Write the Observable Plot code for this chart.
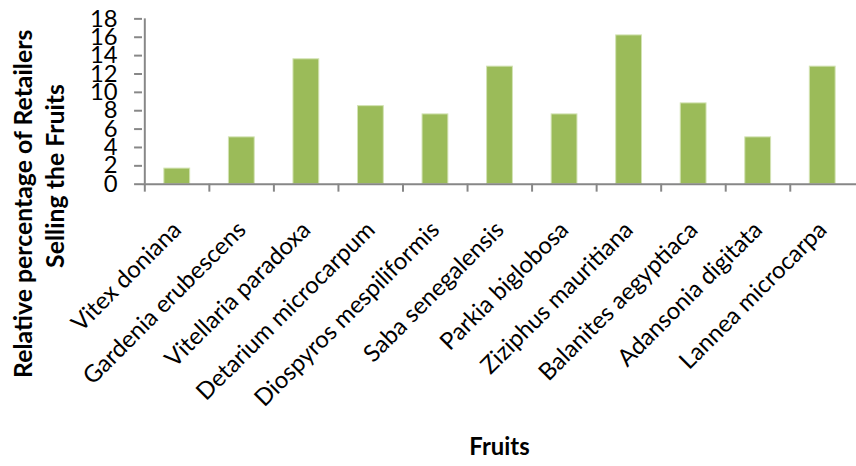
<!DOCTYPE html>
<html>
<head>
<meta charset="utf-8">
<script src="https://cdn.jsdelivr.net/npm/d3@7"></script>
<script src="https://cdn.jsdelivr.net/npm/@observablehq/plot@0.6"></script>
<style>
  html, body { margin: 0; padding: 0; background: #fff; overflow: hidden; }
  #chart svg { display: block; }
</style>
</head>
<body>
<div id="chart"></div>
<script>
const fruits = [
  "Vitex doniana", "Gardenia erubescens", "Vitellaria paradoxa", "Detarium microcarpum",
  "Diospyros mespiliformis", "Saba senegalensis", "Parkia biglobosa", "Ziziphus mauritiana",
  "Balanites aegyptiaca", "Adansonia digitata", "Lannea microcarpa"
];
const percentages = [1.7, 5.1, 13.6, 8.5, 7.6, 12.8, 7.6, 16.2, 8.8, 5.1, 12.8];
const yTicks = [0, 2, 4, 6, 8, 10, 12, 14, 16, 18];
const yTitleLines = ["Relative percentage of Retailers", "Selling the Fruits"];
const xTitle = "Fruits";

const data = fruits.map((f, i) => ({fruit: f, value: percentages[i]}));

const W = 862, H = 466, ML = 143, MR = 0, MT = 18.5, MB = 281;
const step = (W - ML - MR) / fruits.length;
const gray = "#878787";
const font = "Lato, 'Open Sans', sans-serif";

const chart = Plot.plot({
  width: W,
  height: H,
  marginLeft: ML,
  marginRight: MR,
  marginTop: MT,
  marginBottom: MB,
  style: {fontFamily: font, color: "#000", background: "#fff"},
  x: {domain: fruits, paddingInner: 0.6, paddingOuter: 0.3, axis: null},
  y: {domain: [0, 18], axis: null},
  marks: [
    Plot.barY(data, {x: "fruit", y: "value", fill: "#9bbb59", stroke: "#d3e3b4", strokeWidth: 1}),
    Plot.ruleY([0], {stroke: gray, strokeWidth: 2}),
    Plot.ruleX([fruits[0]], {x: d => d, y1: 0, y2: 18, dx: -step / 2, stroke: gray, strokeWidth: 2}),
    Plot.axisY(yTicks, {tickSize: 8, tickPadding: 17, fontSize: 24, stroke: gray, strokeWidth: 2, fill: "#000", label: null}),
    Plot.axisX({tickSize: 8, dx: -step / 2, stroke: gray, strokeWidth: 2, fill: "none", tickFormat: () => "", label: null}),
    Plot.axisX({tickSize: 0, tickRotate: -45, tickPadding: 42, fontSize: 24, fill: "#000", label: null}),
    Plot.text([xTitle], {frameAnchor: "bottom", lineAnchor: "middle", textAnchor: "middle", dy: 265, fontSize: 24, fontWeight: "bold", fill: "#000"}),
    Plot.text([yTitleLines[0]], {frameAnchor: "left", lineAnchor: "middle", textAnchor: "middle", rotate: -90, dx: -119, dy: 103, fontSize: 25, fontWeight: "bold", fill: "#000"}),
    Plot.text([yTitleLines[1]], {frameAnchor: "left", lineAnchor: "middle", textAnchor: "middle", rotate: -90, dx: -87, dy: 75, fontSize: 25, fontWeight: "bold", fill: "#000"})
  ]
});
document.getElementById("chart").appendChild(chart);
</script>
</body>
</html>
